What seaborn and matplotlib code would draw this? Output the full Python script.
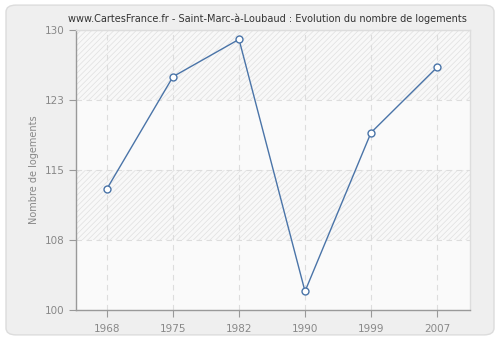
import matplotlib
matplotlib.use("Agg")
import matplotlib.pyplot as plt
from matplotlib.patches import FancyBboxPatch
import seaborn as sns
import pandas as pd

years = ["1968", "1975", "1982", "1990", "1999", "2007"]
logements = [113, 125, 129, 102, 119, 126]
ytick_values = [100, 107.5, 115, 122.5, 130]
ytick_labels = ["100", "108", "115", "123", "130"]

df = pd.DataFrame({"annee": years, "logements": logements})

sns.set_theme(style="white")
plt.rcParams["font.family"] = ["DejaVu Sans"]
plt.rcParams["hatch.linewidth"] = 0.5
plt.rcParams["hatch.color"] = "#e0e0e0"

fig = plt.figure(figsize=(5.0, 3.4), dpi=100)
fig.patch.set_facecolor("white")

# rounded outer frame, kept behind the axes
frame = FancyBboxPatch((0.012, 0.015), 0.976, 0.97,
                       boxstyle="round,pad=0,rounding_size=0.02",
                       transform=fig.transFigure, facecolor="#efefef",
                       edgecolor="#dcdcdc", linewidth=1.0, zorder=-10)
fig.add_artist(frame)

ax = fig.add_axes([0.152, 0.0882, 0.788, 0.8236])
ax.set_zorder(1)
ax.set_facecolor("#fafafa")

# alternating bands: hatched and plain
for lo, hi, hatched in [(122.5, 130, True), (115, 122.5, False),
                        (107.5, 115, True), (100, 107.5, False)]:
    ax.axhspan(lo, hi, facecolor="#f8f8f8" if hatched else "#fafafa",
               hatch="//////" if hatched else None, edgecolor="#e0e0e0",
               linewidth=0, zorder=0)

sns.lineplot(data=df, x="annee", y="logements", ax=ax, color="#4a74a8",
             linewidth=1.0, marker="o", markersize=5,
             markerfacecolor="white", markeredgecolor="#4a74a8",
             markeredgewidth=1.0, zorder=3)

ax.set_xlim(-0.47, 5.5)
ax.set_ylim(100, 130)
ax.set_yticks(ytick_values)
ax.set_yticklabels(ytick_labels)

ax.grid(True, color="#dddddd", linestyle=(0, (5, 4)), linewidth=0.8, zorder=1)
ax.set_axisbelow(True)

for side in ["left", "bottom"]:
    ax.spines[side].set_color("#999999")
    ax.spines[side].set_linewidth(1.0)
for side in ["top", "right"]:
    ax.spines[side].set_color("#dddddd")
    ax.spines[side].set_linewidth(1.0)

ax.tick_params(axis="both", which="both", direction="out", length=5,
               width=0.8, color="#999999", labelcolor="#888888", labelsize=7.5,
               bottom=True, left=True)
ax.tick_params(axis="x", pad=5)
ax.tick_params(axis="y", pad=3)

ax.set_xlabel("")
ax.set_ylabel("Nombre de logements", color="#888888", fontsize=7, labelpad=4)
ax.set_title("www.CartesFrance.fr - Saint-Marc-à-Loubaud : Evolution du nombre de logements",
             fontsize=7.0, color="#333333", pad=6, x=0.486)

fig.savefig("out.png", dpi=100, facecolor=fig.get_facecolor())
